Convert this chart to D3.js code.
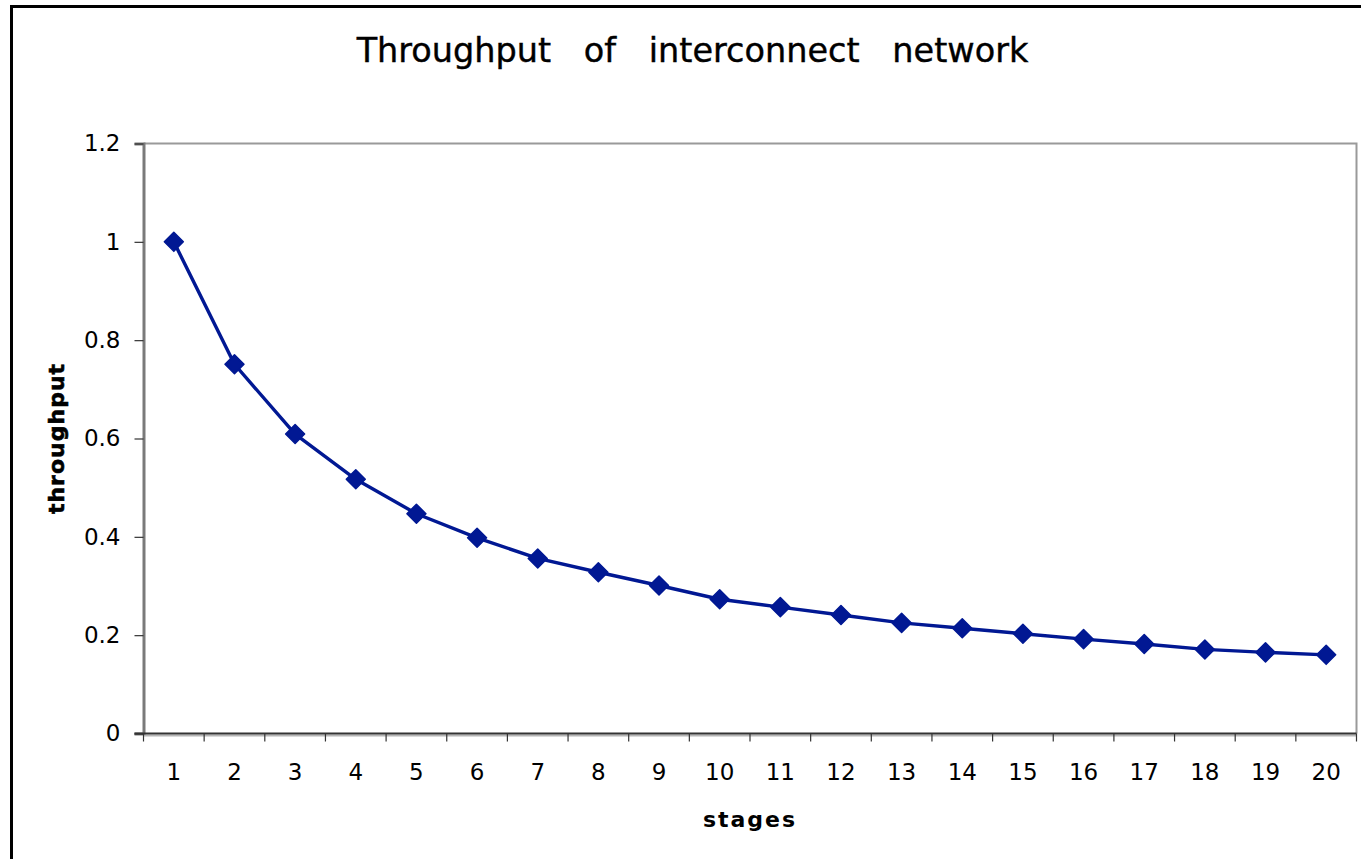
<!DOCTYPE html>
<html>
<head>
<meta charset="utf-8">
<script src="https://cdn.jsdelivr.net/npm/d3@7"></script>
<style>
  html, body { margin: 0; padding: 0; background: #fff; }
  svg { display: block; }
</style>
</head>
<body>
<script>
// ---- data ----
const stages = ["1","2","3","4","5","6","7","8","9","10","11","12","13","14","15","16","17","18","19","20"];
const throughput = [1.0, 0.751, 0.609, 0.517, 0.447, 0.398, 0.356, 0.328, 0.301, 0.273, 0.257, 0.241, 0.225, 0.214, 0.203, 0.192, 0.182, 0.171, 0.165, 0.160];
const yTickValues = [0, 0.2, 0.4, 0.6, 0.8, 1.0, 1.2];
const yTickLabels = ["0", "0.2", "0.4", "0.6", "0.8", "1", "1.2"];
const titleText = "Throughput of interconnect network";
const xTitle = "stages";
const yTitle = "throughput";

// ---- layout ----
const W = 1361, H = 859;
const plot = { left: 143.5, right: 1356.5, top: 143.5, bottom: 733.5 };
const lineColor = "#011893";
const font = "'DejaVu Sans', Verdana, sans-serif";

const svg = d3.select("body").append("svg").attr("width", W).attr("height", H);

// outer chart border
svg.append("rect").attr("x", 11.5).attr("y", 6.5).attr("width", 1400).attr("height", 900)
  .attr("fill", "#fff").attr("stroke", "#000").attr("stroke-width", 3);

const x = d3.scaleBand().domain(stages).range([plot.left, plot.right]);
const y = d3.scaleLinear().domain([0, 1.2]).range([plot.bottom, plot.top]);

// plot area border (top & right)
svg.append("path")
  .attr("d", `M${plot.left},${plot.top}H${plot.right}V${plot.bottom}`)
  .attr("fill", "none").attr("stroke", "#9a9a9a").attr("stroke-width", 2);

// y axis
const yAxis = d3.axisLeft(y).tickValues(yTickValues)
  .tickFormat((d, i) => yTickLabels[i]).tickSize(9).tickPadding(14);
const gy = svg.append("g").attr("transform", `translate(${plot.left},0)`).call(yAxis);
gy.select(".domain").attr("stroke", "#7a7a7a").attr("stroke-width", 3);
gy.selectAll(".tick line").attr("stroke", "#333").attr("stroke-width", 1.2);
gy.selectAll(".tick text").attr("font-family", font).attr("font-size", 23).attr("fill", "#000");

// x axis (labels centered in bands, ticks at band boundaries)
const xAxis = d3.axisBottom(x).tickSize(0).tickPadding(30);
const gx = svg.append("g").attr("transform", `translate(0,${plot.bottom})`).call(xAxis);
gx.select(".domain").remove();
gx.selectAll(".tick text").attr("font-family", font).attr("font-size", 23).attr("fill", "#000");

svg.append("line").attr("x1", plot.left).attr("x2", plot.right)
  .attr("y1", plot.bottom + 2).attr("y2", plot.bottom + 2)
  .attr("stroke", "#b5b5b5").attr("stroke-width", 2);
svg.append("line").attr("x1", plot.left - 9).attr("x2", plot.right)
  .attr("y1", plot.bottom).attr("y2", plot.bottom)
  .attr("stroke", "#333").attr("stroke-width", 2);

const boundaries = stages.map(s => x(s)).concat([x(stages[stages.length - 1]) + x.bandwidth()]);
svg.append("g").selectAll("line").data(boundaries).join("line")
  .attr("x1", d => d).attr("x2", d => d)
  .attr("y1", plot.bottom).attr("y2", plot.bottom + 8)
  .attr("stroke", "#333").attr("stroke-width", 1.2);

// series line
const cx = s => x(s) + x.bandwidth() / 2;
const line = d3.line().x((d, i) => cx(stages[i])).y(d => y(d));
svg.append("path").datum(throughput).attr("d", line)
  .attr("fill", "none").attr("stroke", lineColor).attr("stroke-width", 3.4)
  .attr("stroke-linejoin", "round");

// diamond markers
const r = 9.5;
svg.append("g").selectAll("path").data(throughput).join("path")
  .attr("transform", (d, i) => `translate(${cx(stages[i])},${y(d)})`)
  .attr("d", `M0,${-r}L${r},0L0,${r}L${-r},0Z`)
  .attr("fill", lineColor).attr("stroke", lineColor).attr("stroke-width", 1.5)
  .attr("stroke-linejoin", "round");

// title
svg.append("text").attr("x", 692.5).attr("y", 62)
  .attr("text-anchor", "middle").attr("font-family", font).attr("font-size", 33.5)
  .attr("word-spacing", 22).attr("fill", "#000")
  .attr("stroke", "#000").attr("stroke-width", 0.4).text(titleText);

// axis titles
svg.append("text").attr("x", (plot.left + plot.right) / 2).attr("y", 827)
  .attr("text-anchor", "middle").attr("font-family", font).attr("font-size", 22)
  .attr("font-weight", "bold").attr("letter-spacing", 2).attr("fill", "#000").text(xTitle);

svg.append("text").attr("transform", `translate(64,${(plot.top + plot.bottom) / 2}) rotate(-90)`)
  .attr("text-anchor", "middle").attr("font-family", font).attr("font-size", 22)
  .attr("font-weight", "bold").attr("letter-spacing", 1).attr("fill", "#000")
  .attr("stroke", "#000").attr("stroke-width", 0.6).text(yTitle);
</script>
</body>
</html>
